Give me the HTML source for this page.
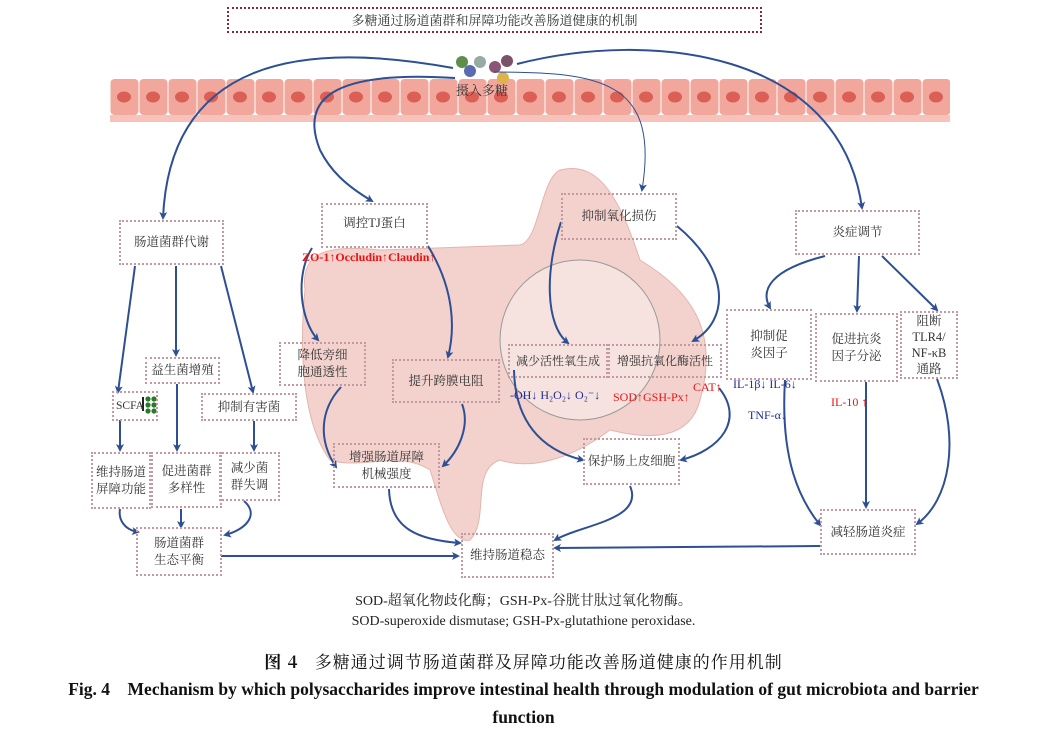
<!DOCTYPE html>
<html><head><meta charset="utf-8"><style>
body{margin:0;background:#fff;}
#c{position:relative;width:1047px;height:736px;overflow:hidden;font-family:"Liberation Serif","Noto Serif CJK SC","Noto Sans CJK SC",serif;color:#333;}
.b{position:absolute;border:2px dotted #c49aa2;box-sizing:border-box;display:flex;align-items:center;justify-content:center;text-align:center;font-size:12.5px;line-height:17px;color:#333;white-space:nowrap;}
.t{position:absolute;white-space:nowrap;font-size:12px;}
svg{position:absolute;left:0;top:0;}
</style></head><body><div id="c">
<svg width="1047" height="736" viewBox="0 0 1047 736">
<defs>
<marker id="a" markerWidth="8" markerHeight="8" refX="6" refY="4" orient="auto" markerUnits="userSpaceOnUse"><path d="M0,0 L8,4 L0,8 L2,4z" fill="#2d4f93"/></marker>
<pattern id="cell" x="110" y="79" width="29" height="44" patternUnits="userSpaceOnUse">
<rect x="0.5" y="0" width="28" height="36" rx="4" fill="#f1a79c"/>
<ellipse cx="14" cy="18" rx="7" ry="5.5" fill="#dc5f55"/>
<rect x="0" y="36" width="29" height="7" fill="#f6c2ba"/>
</pattern>
</defs>
<rect x="110" y="79" width="840" height="43" fill="url(#cell)"/>
<g fill="#f3d2cd" stroke="#e4b4ad" stroke-width="1">
<path d="M305,290 C300,250 330,245 380,250 L520,245 C540,240 540,180 560,170 C600,160 620,200 640,260 C690,290 720,330 700,400 C690,440 650,440 610,430 C570,460 530,470 500,460 C470,470 490,520 470,540 C450,545 440,500 430,470 C400,450 360,470 330,460 C300,420 300,340 305,290z"/>
</g>
<circle cx="580" cy="340" r="80" fill="#f8ecea" fill-opacity="0.6" stroke="#999" stroke-width="1"/>
<circle cx="462" cy="62" r="6" fill="#5f8e4c"/><circle cx="480" cy="62" r="6" fill="#98aaa3"/><circle cx="495" cy="67" r="6" fill="#8a5577"/><circle cx="507" cy="61" r="6" fill="#7b5268"/><circle cx="470" cy="71" r="6" fill="#5a6bb0"/><circle cx="503" cy="78" r="6" fill="#e0b24b"/>
<g fill="none" stroke="#2d4f93" stroke-width="2" marker-end="url(#a)">
<path d="M453,68 C300,40 170,60 163,218"/>
<path d="M455,78 C330,70 300,100 320,150 C330,170 345,185 372,201"/>
<path d="M517,64 C650,30 840,50 862,208" />
<path d="M494,72 C600,72 660,80 642,190" stroke-width="1"/>
<path d="M135,266 L118,392"/>
<path d="M176,266 L176,355"/>
<path d="M221,266 L253,392"/>
<path d="M120,420 L120,450"/>
<path d="M177,384 L177,450"/>
<path d="M254,421 L254,450"/>
<path d="M120,509 C118,520 125,530 138,532"/>
<path d="M181,509 L181,527"/>
<path d="M244,501 C260,515 245,530 225,535"/>
<path d="M221,556 L458,556"/>
<path d="M312,248 C295,275 300,320 318,340"/>
<path d="M428,246 C455,290 455,330 448,357"/>
<path d="M341,387 C320,410 318,440 336,467"/>
<path d="M462,404 C470,425 460,450 443,466"/>
<path d="M389,489 C390,530 420,540 460,543"/>
<path d="M561,222 C545,270 545,325 568,343"/>
<path d="M677,226 C730,270 730,320 693,341"/>
<path d="M514,370 C515,420 540,450 583,460"/>
<path d="M719,388 C745,420 720,450 681,460"/>
<path d="M630,486 C645,520 580,525 555,540"/>
<path d="M825,256 C770,270 760,290 770,308"/>
<path d="M859,256 L857,311"/>
<path d="M882,256 L937,310"/>
<path d="M785,380 C780,460 800,500 820,525"/>
<path d="M866,382 L866,507"/>
<path d="M937,379 C960,440 950,500 917,524"/>
<path d="M820,546 L555,548"/>
</g>
<rect x="142" y="397" width="2" height="14" fill="#222"/>
<g fill="#2a7a2a"><circle cx="148" cy="399" r="2.6"/><circle cx="154" cy="399" r="2.6"/><circle cx="148" cy="405" r="2.6"/><circle cx="154" cy="405" r="2.6"/><circle cx="148" cy="411" r="2.6"/><circle cx="154" cy="411" r="2.6"/></g>
</svg>
<div class="b" style="left:227px;top:7px;width:535px;height:26px;border:2px dotted #8b2a35;font-size:13px;">多糖通过肠道菌群和屏障功能改善肠道健康的机制</div>
<div class="t" style="left:456px;top:80px;font-size:13px;">摄入多糖</div>
<div class="b" style="left:119px;top:220px;width:105px;height:45px;">肠道菌群代谢</div>
<div class="b" style="left:321px;top:203px;width:107px;height:45px;align-items:flex-start;padding-top:10px;">调控TJ蛋白</div>
<div class="t" style="left:302px;top:250px;color:#e11;font-weight:bold;">ZO-1↑Occludin↑Claudin↑</div>
<div class="b" style="left:561px;top:193px;width:116px;height:47px;">抑制氧化损伤</div>
<div class="b" style="left:795px;top:210px;width:125px;height:45px;">炎症调节</div>
<div class="b" style="left:145px;top:357px;width:75px;height:27px;">益生菌增殖</div>
<div class="b" style="left:112px;top:391px;width:46px;height:30px;justify-content:flex-start;padding-left:2px;font-size:11.5px;">SCFA</div>
<div class="b" style="left:201px;top:393px;width:96px;height:28px;">抑制有害菌</div>
<div class="b" style="left:279px;top:342px;width:87px;height:44px;">降低旁细<br>胞通透性</div>
<div class="b" style="left:392px;top:359px;width:108px;height:44px;">提升跨膜电阻</div>
<div class="b" style="left:508px;top:344px;width:100px;height:34px;font-size:12px;">减少活性氧生成</div>
<div class="b" style="left:608px;top:344px;width:114px;height:34px;font-size:12px;">增强抗氧化酶活性</div>
<div class="t" style="left:510px;top:388px;color:#1e2a9a;">-OH↓ H₂O₂↓ O₂⁻↓</div>
<div class="t" style="left:613px;top:390px;color:#e11;">SOD↑GSH-Px↑</div>
<div class="t" style="left:693px;top:380px;color:#e11;">CAT↑</div>
<div class="b" style="left:726px;top:309px;width:86px;height:71px;">抑制促<br>炎因子</div>
<div class="b" style="left:815px;top:313px;width:83px;height:69px;">促进抗炎<br>因子分泌</div>
<div class="b" style="left:900px;top:311px;width:58px;height:68px;line-height:16px;">阻断<br>TLR4/<br>NF-κB<br>通路</div>
<div class="t" style="left:733px;top:377px;color:#1e2a9a;">IL-1β↓ IL-6↓</div>
<div class="t" style="left:748px;top:408px;color:#1e2a9a;">TNF-α↓</div>
<div class="t" style="left:831px;top:395px;color:#e11;">IL-10 ↑</div>
<div class="b" style="left:91px;top:452px;width:60px;height:57px;">维持肠道<br>屏障功能</div>
<div class="b" style="left:151px;top:452px;width:71px;height:56px;">促进菌群<br>多样性</div>
<div class="b" style="left:219px;top:452px;width:61px;height:49px;">减少菌<br>群失调</div>
<div class="b" style="left:333px;top:443px;width:107px;height:45px;">增强肠道屏障<br>机械强度</div>
<div class="b" style="left:583px;top:438px;width:97px;height:47px;">保护肠上皮细胞</div>
<div class="b" style="left:136px;top:527px;width:86px;height:49px;">肠道菌群<br>生态平衡</div>
<div class="b" style="left:461px;top:533px;width:93px;height:45px;">维持肠道稳态</div>
<div class="b" style="left:820px;top:509px;width:96px;height:46px;">减轻肠道炎症</div>
<div class="t" style="left:0;width:1047px;text-align:center;top:590px;font-size:14px;color:#222;">SOD-超氧化物歧化酶；GSH-Px-谷胱甘肽过氧化物酶。</div>
<div class="t" style="left:0;width:1047px;text-align:center;top:614px;font-size:14px;color:#222;">SOD-superoxide dismutase; GSH-Px-glutathione peroxidase.</div>
<div class="t" style="left:0;width:1047px;text-align:center;top:648px;font-size:17px;letter-spacing:1px;color:#111;font-family:'Noto Serif CJK SC','Noto Sans CJK SC',serif;"><b>图 4</b>&nbsp;&nbsp;&nbsp;多糖通过调节肠道菌群及屏障功能改善肠道健康的作用机制</div>
<div class="t" style="left:0;width:1047px;text-align:center;top:679px;font-size:17.5px;color:#111;font-weight:bold;">Fig. 4&nbsp;&nbsp;&nbsp; Mechanism by which polysaccharides improve intestinal health through modulation of gut microbiota and barrier</div>
<div class="t" style="left:0;width:1047px;text-align:center;top:707px;font-size:17.5px;color:#111;font-weight:bold;">function</div>
</div></body></html>
